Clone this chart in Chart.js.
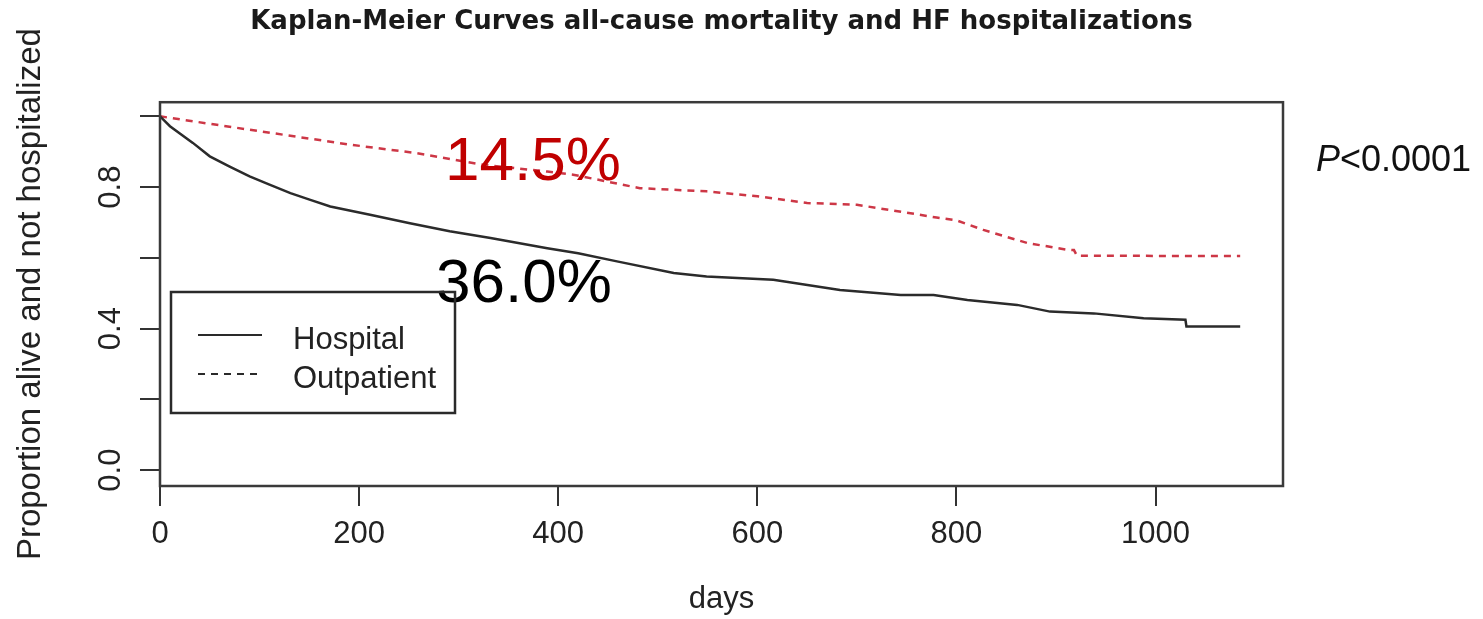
<!DOCTYPE html>
<html>
<head>
<meta charset="utf-8">
<title>Kaplan-Meier Curves</title>
<script src="https://cdn.jsdelivr.net/npm/chart.js@4.4.1/dist/chart.umd.min.js"></script>
<style>
  html, body { margin: 0; padding: 0; background: #fff; }
  canvas { display: block; }
</style>
</head>
<body>
<canvas id="kmChart" width="1483" height="619"></canvas>
<script>
// data (days, proportion alive and not hospitalized)
const hospitalDays = [0, 10, 33, 50, 70, 90, 110, 131, 151, 171, 211, 251, 291, 332, 389, 420, 459, 516, 549, 616, 683, 744, 777, 811, 861, 894, 938, 988, 1030, 1031, 1085];
const hospitalSurv = [1.000, 0.972, 0.925, 0.887, 0.858, 0.830, 0.807, 0.783, 0.764, 0.745, 0.722, 0.698, 0.675, 0.656, 0.627, 0.613, 0.590, 0.557, 0.547, 0.538, 0.509, 0.495, 0.495, 0.481, 0.467, 0.448, 0.443, 0.429, 0.425, 0.406, 0.406];

const outpatientDays = [0, 57, 124, 191, 258, 325, 389, 415, 482, 549, 600, 650, 700, 745, 780, 800, 827, 871, 911, 918, 921, 1085];
const outpatientSurv = [1.000, 0.976, 0.948, 0.920, 0.896, 0.863, 0.844, 0.835, 0.797, 0.788, 0.774, 0.755, 0.750, 0.730, 0.714, 0.706, 0.679, 0.642, 0.623, 0.622, 0.606, 0.605];

const seriesNames = ['Hospital', 'Outpatient'];
const xTicks = [0, 200, 400, 600, 800, 1000];
const xTickLabels = ['0', '200', '400', '600', '800', '1000'];
const yTicks = [0, 0.2, 0.4, 0.6, 0.8, 1.0];
const yTickLabels = ['0.0', '', '0.4', '', '0.8', ''];

const chartTitle = 'Kaplan-Meier Curves all-cause mortality and HF hospitalizations';
const xTitle = 'days';
const yTitle = 'Proportion alive and not hospitalized';
const notes = [
  { text: '14.5%', color: '#c00000', x: 445, y: 180 },
  { text: '36.0%', color: '#000000', x: 436, y: 302 }
];

const toPoints = (xs, ys) => xs.map((x, i) => ({ x: x, y: ys[i] }));

// box around plot area, R style
const boxPlugin = {
  id: 'box',
  afterDraw(chart) {
    const { ctx, chartArea: a } = chart;
    ctx.save();
    ctx.strokeStyle = '#3a3a3a';
    ctx.lineWidth = 2.5;
    ctx.strokeRect(a.left, a.top, a.right - a.left, a.bottom - a.top);
    ctx.restore();
  }
};

// legend box inside the plot and the text notes
const notesPlugin = {
  id: 'notes',
  afterDraw(chart) {
    const ctx = chart.ctx;
    ctx.save();
    ctx.font = '62px "Liberation Sans", Arial, sans-serif';
    ctx.textBaseline = 'alphabetic';
    ctx.textAlign = 'left';
    notes.forEach(n => {
      ctx.fillStyle = n.color;
      ctx.fillText(n.text, n.x, n.y);
    });

    // P value
    ctx.fillStyle = '#111';
    ctx.font = 'italic 36px "Liberation Sans", Arial, sans-serif';
    ctx.fillText('P', 1316, 171);
    const pw = ctx.measureText('P').width;
    ctx.font = '36px "Liberation Sans", Arial, sans-serif';
    ctx.fillText('<0.0001', 1316 + pw, 171);

    // legend
    ctx.strokeStyle = '#2a2a2a';
    ctx.lineWidth = 2.5;
    ctx.strokeRect(171, 292, 284, 121);
    ctx.font = '31px "Liberation Sans", Arial, sans-serif';
    chart.data.datasets.forEach((ds, i) => {
      const y = 335 + i * 39;
      ctx.beginPath();
      ctx.setLineDash(ds.borderDash || []);
      ctx.strokeStyle = '#2a2a2a';
      ctx.lineWidth = 2;
      ctx.moveTo(198, y);
      ctx.lineTo(262, y);
      ctx.stroke();
      ctx.setLineDash([]);
      ctx.fillStyle = '#222';
      ctx.fillText(ds.label, 293, y + 14);
    });
    ctx.restore();
  }
};

const config = {
  type: 'line',
  data: {
    datasets: [{
      label: seriesNames[0],
      data: toPoints(hospitalDays, hospitalSurv),
      borderColor: '#2b2b2b',
      borderWidth: 2.5,
      pointRadius: 0,
      tension: 0
    }, {
      label: seriesNames[1],
      data: toPoints(outpatientDays, outpatientSurv),
      borderColor: 'rgb(205, 55, 70)',
      borderWidth: 2.5,
      borderDash: [7, 6],
      pointRadius: 0,
      tension: 0
    }]
  },
  options: {
    responsive: false,
    animation: false,
    devicePixelRatio: 1,
    layout: { padding: { left: 0, right: 200, top: 0, bottom: 0 } },
    plugins: {
      legend: { display: false },
      tooltip: { enabled: false },
      title: {
        display: true,
        fullSize: false,
        text: chartTitle,
        color: '#1a1a1a',
        font: { family: '"DejaVu Sans", Verdana, sans-serif', size: 26, weight: 'bold' },
        padding: { top: 7, bottom: 64 }
      }
    },
    scales: {
      x: {
        type: 'linear',
        min: 0,
        max: 1128,
        afterBuildTicks: s => { s.ticks = xTicks.map(v => ({ value: v })); },
        afterFit: s => { s.height = 133; },
        border: { display: false },
        grid: { drawOnChartArea: false, drawTicks: true, tickLength: 20, color: '#333', lineWidth: 2 },
        ticks: {
          color: '#222',
          padding: 10,
          maxRotation: 0,
          font: { family: '"Liberation Sans", Arial, sans-serif', size: 31 },
          callback: (v, i) => xTickLabels[i]
        },
        title: {
          display: true,
          text: xTitle,
          color: '#222',
          font: { family: '"Liberation Sans", Arial, sans-serif', size: 31 },
          padding: { top: 0, bottom: 1 }
        }
      },
      y: {
        min: -0.045,
        max: 1.04,
        afterBuildTicks: s => { s.ticks = yTicks.map(v => ({ value: v })); },
        afterFit: s => { s.width = 160; },
        border: { display: false },
        grid: { drawOnChartArea: false, drawTicks: true, tickLength: 20, color: '#333', lineWidth: 2 },
        ticks: {
          color: '#222',
          padding: 7,
          minRotation: 90,
          maxRotation: 90,
          crossAlign: 'center',
          font: { family: '"Liberation Sans", Arial, sans-serif', size: 31 },
          callback: (v, i) => yTickLabels[i]
        },
        title: {
          display: true,
          text: yTitle,
          color: '#222',
          font: { family: '"Liberation Sans", Arial, sans-serif', size: 33 },
          padding: { top: 11, bottom: 0 }
        }
      }
    }
  },
  plugins: [boxPlugin, notesPlugin]
};

const kmChart = new Chart(document.getElementById('kmChart'), config);
</script>
</body>
</html>
